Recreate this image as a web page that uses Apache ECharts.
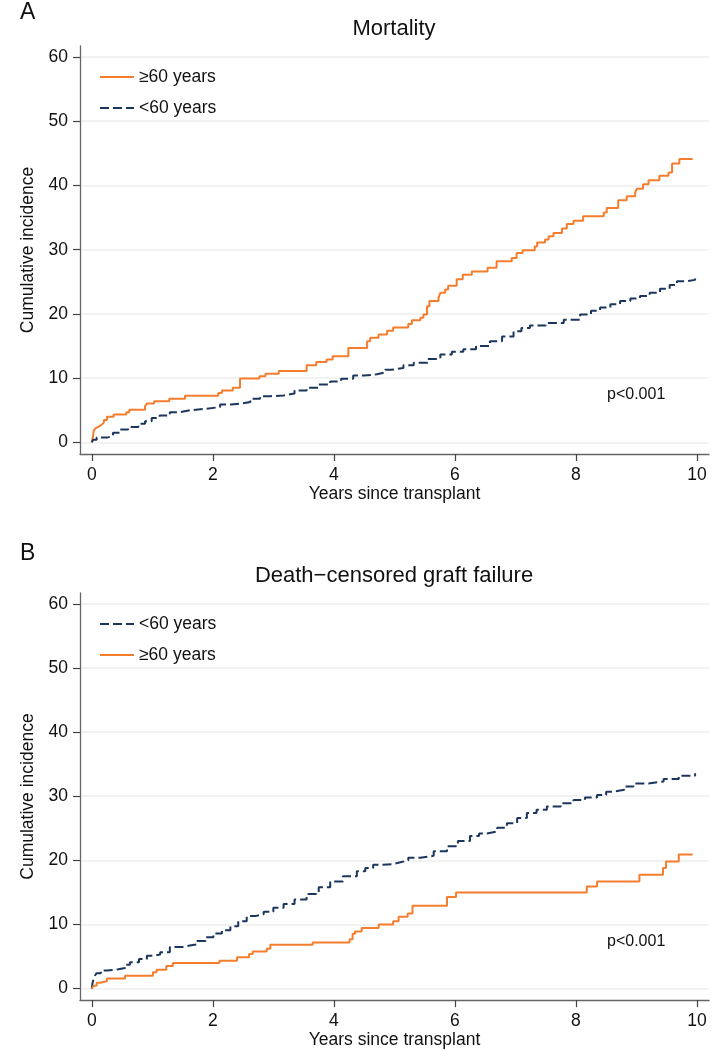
<!DOCTYPE html>
<html>
<head>
<meta charset="utf-8">
<script src="https://cdn.jsdelivr.net/npm/echarts@6/dist/echarts.min.js"></script>
<style>
html,body{margin:0;padding:0;background:#fff;}
#chart{width:727px;height:1050px;}
</style>
</head>
<body>
<div id="chart"></div>
<script>
// ---- Data ----
var yTicks = [0, 10, 20, 30, 40, 50, 60];
var xTicks = [0, 2, 4, 6, 8, 10];
var seriesNames = ['≥60 years', '<60 years'];
var panelTitles = ['Mortality', 'Death\u2212censored graft failure'];
var panelLetters = ['A', 'B'];
var pText = 'p<0.001';

// Panel A: mortality, ≥60 years
var mortOldX = [0,0.02,0.03,0.06,0.08,0.12,0.165,0.2,0.25,0.36,0.57,0.62,0.88,0.91,1.03,1.28,1.54,2.09,2.15,2.33,2.45,2.77,2.87,3.09,3.55,3.71,3.88,3.98,4.24,4.55,4.6,4.74,4.88,4.98,5.23,5.29,5.43,5.48,5.54,5.58,5.73,5.76,5.84,5.89,6.03,6.13,6.28,6.54,6.69,6.94,7.02,7.12,7.32,7.36,7.49,7.55,7.63,7.77,7.85,7.96,8.12,8.46,8.51,8.70,8.84,8.98,9.01,9.11,9.2,9.38,9.53,9.59,9.71,9.93];
var mortOldY = [0,1.0,1.8,2.2,2.5,2.8,3.1,3.5,4.0,4.35,4.7,5.1,5.65,6.05,6.4,6.8,7.25,7.7,8.1,8.5,9.95,10.3,10.7,11.1,12.0,12.5,12.9,13.4,14.7,15.75,16.3,16.8,17.4,17.9,18.45,19.0,19.4,19.9,21.2,22.0,22.5,23.3,23.8,24.4,25.4,26.1,26.6,27.2,28.2,28.7,29.5,29.9,30.5,31.1,31.6,32.1,32.6,33.3,34.0,34.5,35.2,35.8,36.5,37.7,38.3,38.9,39.5,40.2,40.8,41.5,42.0,43.4,44.1,44.1];
// Panel A: mortality, <60 years
var mortYoungX = [0,0.02,0.08,0.25,0.35,0.47,0.6,0.77,0.88,0.99,1.12,1.29,1.45,1.62,1.85,2.12,2.3,2.5,2.62,2.78,2.95,3.17,3.35,3.55,3.75,3.94,4.12,4.32,4.5,4.71,4.85,4.95,5.15,5.32,5.55,5.76,5.95,6.14,6.35,6.58,6.78,6.97,7.1,7.24,7.5,7.8,8.07,8.25,8.4,8.57,8.73,8.9,9.06,9.22,9.39,9.55,9.67,9.85,9.97];
var mortYoungY = [0,0.4,0.75,1.0,1.5,2.0,2.4,2.9,3.3,3.8,4.2,4.7,5.0,5.2,5.5,5.9,6.1,6.3,6.8,7.2,7.3,7.6,8.1,8.5,9.0,9.5,9.9,10.4,10.6,10.9,11.3,11.6,12.0,12.4,13.0,13.7,14.1,14.5,15.0,15.75,16.5,17.3,17.8,18.2,18.6,19.1,19.9,20.5,21.0,21.5,22.0,22.4,22.8,23.3,23.9,24.5,25.1,25.3,25.5];
// Panel B: graft failure, <60 years
var graftYoungX = [0,0.01,0.03,0.05,0.08,0.15,0.25,0.44,0.55,0.63,0.78,0.91,1.02,1.13,1.29,1.51,1.62,1.74,1.88,2.01,2.15,2.29,2.42,2.56,2.7,2.84,3.0,3.17,3.35,3.55,3.75,3.94,4.15,4.38,4.52,4.65,4.8,4.98,5.1,5.23,5.43,5.65,5.87,6.05,6.25,6.4,6.53,6.7,6.86,7.03,7.19,7.35,7.52,7.75,7.96,8.15,8.35,8.5,8.62,8.8,8.95,9.2,9.45,9.7,9.97];
var graftYoungY = [0,0.8,1.5,2.0,2.4,2.8,3.0,3.2,3.7,4.1,4.6,5.1,5.3,5.65,6.5,6.7,6.9,7.4,8.0,8.6,9.1,9.7,10.5,11.3,11.6,12.0,12.6,13.2,13.9,14.75,15.8,16.7,17.5,18.3,18.8,19.3,19.4,19.7,20.0,20.4,20.7,21.4,22.2,23.0,23.8,24.2,24.5,25.1,25.8,26.6,27.4,27.9,28.4,28.9,29.4,29.8,30.2,30.7,31.0,31.5,32.0,32.3,32.7,33.2,33.6];
// Panel B: graft failure, ≥60 years
var graftOldX = [0,0.03,0.08,0.14,0.25,0.55,1.01,1.07,1.23,1.34,2.11,2.4,2.6,2.66,2.89,2.95,3.65,4.26,4.31,4.35,4.46,4.74,4.98,5.07,5.22,5.3,5.87,6.02,8.18,8.35,9.05,9.44,9.49,9.7,9.93];
var graftOldY = [0,0.45,0.9,1.15,1.55,2.0,2.55,2.95,3.5,4.0,4.35,4.9,5.4,5.8,6.2,6.85,7.2,7.7,8.55,8.9,9.45,10.0,10.5,11.2,11.7,12.9,14.3,15.0,15.9,16.7,17.75,18.8,19.8,20.9,20.9];

// ---- Styles ----
var FONT = '"Liberation Sans", Arial, Helvetica, sans-serif';
var ORANGE = '#f47d2e';
var NAVY = '#1b365d';

function zip(xs, ys) { return xs.map(function (x, i) { return [x, ys[i]]; }); }

var grids = [
  { left: 80, top: 46, width: 629, height: 408 },
  { left: 80, top: 593, width: 629, height: 408 }
];

function makeX(i) {
  return {
    gridIndex: i, type: 'value', min: -0.195, max: 10.2,
    name: 'Years since transplant', nameLocation: 'middle', nameGap: 27,
    nameTextStyle: { fontFamily: FONT, fontSize: 17.5, color: '#111' },
    axisLine: { show: true, onZero: false, lineStyle: { color: '#666', width: 1.3 } },
    axisTick: { show: true, length: 7, lineStyle: { color: '#444', width: 1.2 }, customValues: xTicks },
    axisLabel: { fontFamily: FONT, fontSize: 17.5, color: '#111', margin: 12, customValues: xTicks },
    splitLine: { show: false }
  };
}
function makeY(i) {
  return {
    gridIndex: i, type: 'value', min: -1.8, max: 61.7,
    name: 'Cumulative incidence', nameLocation: 'middle', nameGap: 42,
    nameTextStyle: { fontFamily: FONT, fontSize: 17.5, color: '#111' },
    axisLine: { show: true, onZero: false, lineStyle: { color: '#666', width: 1.3 } },
    axisTick: { show: true, length: 7, lineStyle: { color: '#444', width: 1.2 }, customValues: yTicks },
    axisLabel: { fontFamily: FONT, fontSize: 17.5, color: '#111', margin: 12, customValues: yTicks },
    splitLine: { show: true, lineStyle: { color: '#eeeeee', width: 1.5 } }
  };
}

function lineSeries(name, data, gi, color, dashed) {
  return {
    name: name, type: 'line', step: 'end', data: data, symbol: 'none',
    xAxisIndex: gi, yAxisIndex: gi, animation: false,
    lineStyle: { color: color, width: 2, type: dashed ? [9, 4] : 'solid' },
    itemStyle: { color: color }
  };
}

function legendFor(top, order) {
  return {
    orient: 'vertical', left: 94, top: top, itemWidth: 34, itemHeight: 18, itemGap: 13,
    data: order,
    itemStyle: { opacity: 0, color: 'transparent', borderWidth: 0 },
    textStyle: { fontFamily: FONT, fontSize: 17.5, color: '#111', lineHeight: 18 },
    selectedMode: false
  };
}

var option = {
  backgroundColor: '#fff',
  animation: false,
  grid: grids,
  xAxis: [makeX(0), makeX(1)],
  yAxis: [makeY(0), makeY(1)],
  legend: [legendFor(63, [seriesNames[0], seriesNames[1]]), legendFor(610, [seriesNames[1], seriesNames[0]])],
  series: [
    lineSeries(seriesNames[0], zip(mortOldX, mortOldY), 0, ORANGE, false),
    lineSeries(seriesNames[1], zip(mortYoungX, mortYoungY), 0, NAVY, true),
    lineSeries(seriesNames[1], zip(graftYoungX, graftYoungY), 1, NAVY, true),
    lineSeries(seriesNames[0], zip(graftOldX, graftOldY), 1, ORANGE, false)
  ],
  graphic: [
    { type: 'text', left: 20, top: 1, style: { text: panelLetters[0], font: '23px ' + FONT, fill: '#111' } },
    { type: 'text', left: 20, top: 542, style: { text: panelLetters[1], font: '23px ' + FONT, fill: '#111' } },
    { type: 'text', x: 394, y: 29, style: { text: panelTitles[0], font: '22px ' + FONT, fill: '#111', align: 'center', verticalAlign: 'middle' } },
    { type: 'text', x: 394, y: 576, style: { text: panelTitles[1], font: '22px ' + FONT, fill: '#111', align: 'center', verticalAlign: 'middle' } },
    { type: 'text', x: 607, y: 395, style: { text: pText, font: '16px ' + FONT, fill: '#111', align: 'left', verticalAlign: 'middle' } },
    { type: 'text', x: 607, y: 942, style: { text: pText, font: '16px ' + FONT, fill: '#111', align: 'left', verticalAlign: 'middle' } }
  ]
};

var chart = echarts.init(document.getElementById('chart'), null, { renderer: 'canvas' });
chart.setOption(option);
</script>
</body>
</html>
